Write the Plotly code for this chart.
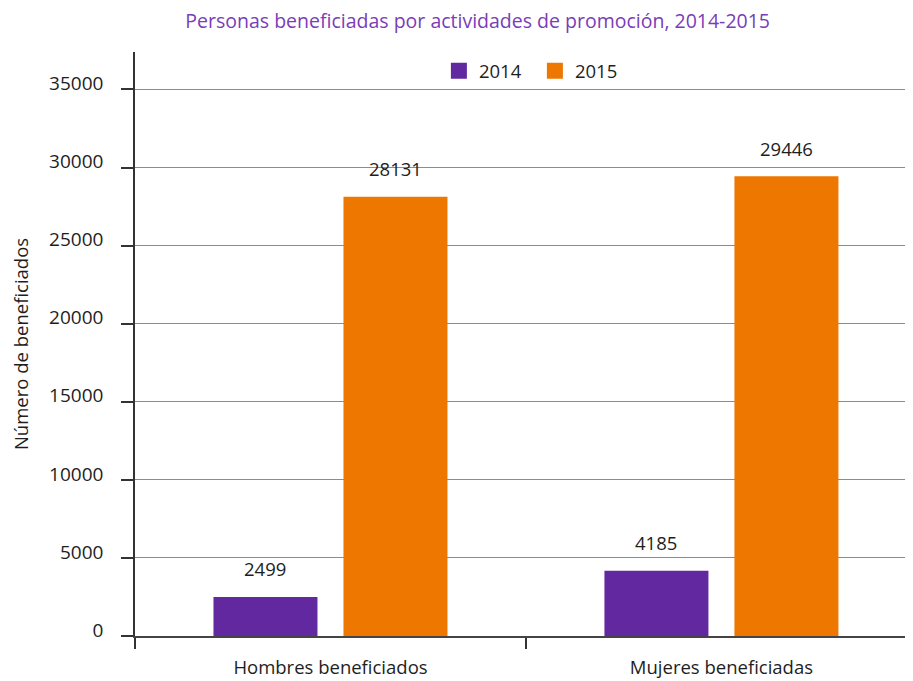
import plotly.graph_objects as go

# ---------------------------------------------------------------------------
# Data
# ---------------------------------------------------------------------------

categories = ["Hombres beneficiados", "Mujeres beneficiadas"]
years = ["2014", "2015"]
values_2014 = [2499, 4185]
values_2015 = [28131, 29446]
y_ticks = [0, 5000, 10000, 15000, 20000, 25000, 30000, 35000]

colors = {"2014": "#62289F", "2015": "#EE7700"}
font = "Open Sans, Noto Sans, sans-serif"
text_color = "#1E1E1E"

# ---------------------------------------------------------------------------
# Figure
# ---------------------------------------------------------------------------

fig = go.Figure()

bar_shift = {"2014": -65, "2015": 65}

for year, vals in zip(years, [values_2014, values_2015]):
    fig.add_trace(go.Bar(
        x=categories, y=vals, name=year,
        marker={"color": colors[year], "line": {"width": 0}},
        showlegend=False,
    ))
    # larger square legend swatches
    fig.add_trace(go.Scatter(
        x=[None], y=[None], mode="markers", name=year,
        marker={"symbol": "square", "size": 16, "color": colors[year]},
    ))
    # value labels floating above the bars
    for cat, v in zip(categories, vals):
        fig.add_annotation(
            x=cat, y=v, text=str(v), showarrow=False,
            xshift=bar_shift[year], yshift=28, yanchor="middle",
            font={"family": font, "size": 18.5, "color": text_color},
        )

# page body adds an 8px margin, so the figure is sized to fit inside it
fig.update_layout(
    width=905, height=673,
    margin={"l": 127, "r": 0, "t": 44, "b": 45},
    paper_bgcolor="white", plot_bgcolor="white",
    font={"family": font, "size": 18.5, "color": text_color},
    barmode="group", bargap=0.335, bargroupgap=0.2,
    title={
        "text": "Personas beneficiadas por actividades de promoción, 2014-2015",
        "x": 0.519, "xanchor": "center", "y": 0.980, "yanchor": "middle",
        "font": {"family": font, "size": 19.5, "color": "#7A3CB8"},
    },
    legend={
        "orientation": "h", "x": 0.514, "xanchor": "center",
        "y": 0.967, "yanchor": "middle",
        "font": {"size": 18.5}, "bgcolor": "rgba(0,0,0,0)",
        "itemwidth": 30, "entrywidth": 51,
    },
)

fig.update_xaxes(
    type="category", range=[-0.5, 1.49], automargin=False,
    tickson="boundaries", ticks="outside", ticklen=11, tickcolor="#333333",
    tickwidth=1.5,
    showline=True, linecolor="#444444", linewidth=2,
    showgrid=False, zeroline=False,
    ticklabelstandoff=14,
    tickfont={"size": 18.5},
)

fig.update_yaxes(
    range=[0, 37400], automargin=False,
    tickmode="array", tickvals=y_ticks, ticktext=[str(v) for v in y_ticks],
    ticks="outside", ticklen=12, tickcolor="#333333", tickwidth=1.5,
    showline=True, linecolor="#333333", linewidth=1.5,
    showgrid=True, gridcolor="#8C8C8C", gridwidth=1,
    zeroline=False,
    ticklabelstandoff=14, ticklabelshift=-6,
    tickfont={"size": 19},
    title={"text": "Número de beneficiados", "standoff": 42,
           "font": {"size": 18.5}},
)

fig.write_html("out.html")
